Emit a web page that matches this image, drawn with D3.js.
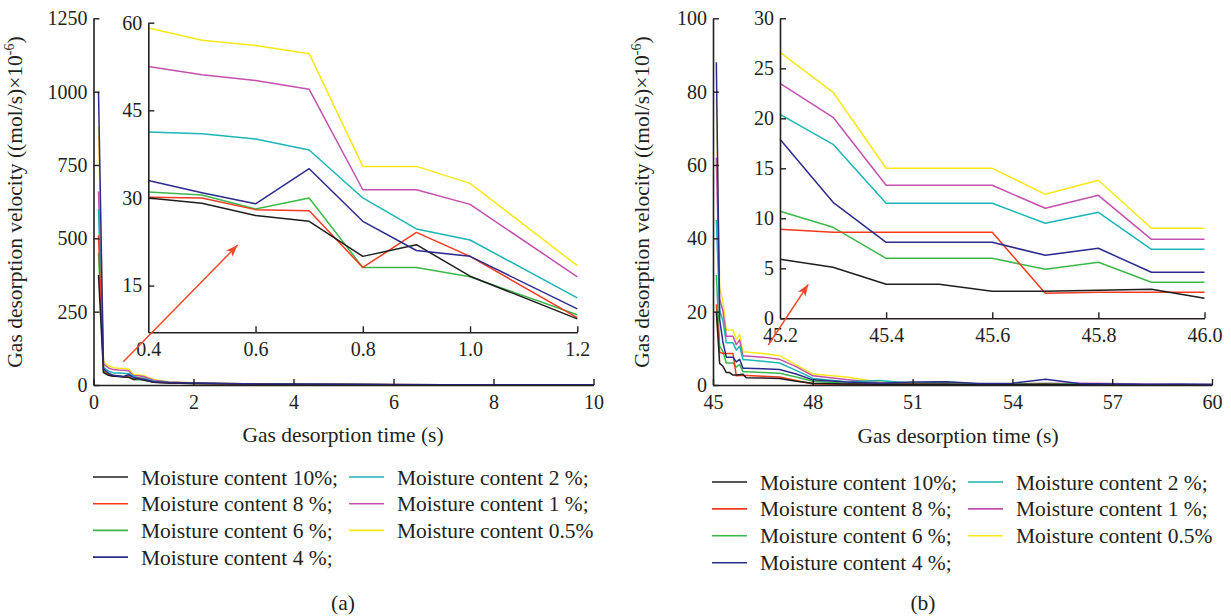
<!DOCTYPE html>
<html><head><meta charset="utf-8">
<script src="https://cdn.jsdelivr.net/npm/d3@7"></script>
<style>
body{margin:0;background:#fff;}
svg text{font-family:"Liberation Serif","Times New Roman",serif;fill:#231f20;}
</style></head>
<body><svg id="c" width="1231" height="616"></svg>
<script>
// ---------- data ----------
const seriesNames = ["Moisture content 10%;","Moisture content 8 %;","Moisture content 6 %;","Moisture content 4 %;","Moisture content 2 %;","Moisture content 1 %;","Moisture content 0.5%"];
const seriesColors = ["#1e1e1e","#f23a1f","#3cb84a","#2c2a8c","#1cb5b5","#c450ad","#f7e816"];

// panel (a)
const timesA = [0.1,0.2,0.3,0.4,0.5,0.6,0.7,0.8,0.9,1.0,1.2,1.5,2,3,4,5,6,7,8,9,10];
const a10 = [375,42,33,30.0,29.1,27.0,26.0,20.0,22.0,16.6,9.3,7,5,3,2,1.5,1,0.8,0.6,0.5,0.4];
const a8  = [510,45,34,30.1,30.0,28.0,27.8,18.1,24.1,20.0,9.5,7,5,3,2,1.5,1,0.8,0.6,0.5,0.4];
const a6  = [450,48,36,31.0,30.5,28.1,30.0,18.1,18.1,16.5,10.0,7.5,5.5,3.2,2.2,1.6,1.1,0.9,0.7,0.5,0.4];
const a4  = [1000,55,40,33.0,30.9,29.0,35.0,26.0,21.0,20.0,11.0,8.5,6.5,4,3,2.2,1.6,1.2,1,0.8,0.6];
const a2  = [600,60,47,41.3,41.0,40.1,38.2,30.0,24.7,22.8,12.9,9,6,3.5,2.4,1.7,1.2,0.9,0.7,0.5,0.4];
const a1  = [660,72,58,52.5,51.1,50.1,48.6,31.4,31.4,28.9,16.5,10,7,4,2.6,1.8,1.3,1,0.8,0.6,0.5];
const a05 = [880,80,65,59.1,57.0,56.1,54.7,35.4,35.4,32.5,18.4,11,7.5,4.3,2.8,2,1.4,1.1,0.9,0.7,0.5];
const mainTicksAX = [0,2,4,6,8,10];
const mainTicksAY = [0,250,500,750,1000,1250];
const insetTicksAX = [0.4,0.6,0.8,1.0,1.2];
const insetTicksAY = [15,30,45,60];

// panel (b)
const timesB = [45.1,45.2,45.3,45.4,45.5,45.6,45.7,45.8,45.9,46.0,46.5,47,47.5,48,49,50,51,52,53,54,55,56,57,58,59,60];
const b10 = [20,5.9,5.1,3.4,3.4,2.7,2.7,2.8,2.9,2.0,1.9,1.8,1.0,0.5,0.3,0.2,0.2,0.2,0.1,0.1,0.2,0.1,0.1,0.1,0.1,0.1];
const b8  = [22,8.9,8.6,8.6,8.6,8.6,2.5,2.6,2.6,2.6,2.4,2.2,1.2,0.3,0.2,0.2,0.2,0.2,0.1,0.1,0.2,0.1,0.1,0.1,0.1,0.1];
const b6  = [30,10.7,9.1,6.0,6.0,6.0,4.9,5.6,3.6,3.6,3.4,3.2,2.2,1.0,0.5,0.3,0.4,0.8,0.3,0.2,0.3,0.2,0.1,0.1,0.1,0.1];
const b4  = [88,17.9,11.6,7.6,7.6,7.6,6.3,7.0,4.6,4.6,4.4,4.2,3.0,1.4,0.8,0.5,0.8,0.9,0.4,0.5,1.6,0.4,0.3,0.2,0.3,0.2];
const b2  = [45,20.4,17.4,11.5,11.5,11.5,9.5,10.6,6.9,6.9,6.5,6.0,4.0,1.8,0.9,1.2,0.5,0.4,0.3,0.3,0.4,0.3,0.2,0.1,0.1,0.1];
const b1  = [62,23.5,20.1,13.3,13.3,13.3,11.0,12.3,7.9,7.9,7.6,7.0,5.0,2.5,1.5,0.6,0.4,0.4,0.3,0.3,0.4,0.5,0.4,0.2,0.1,0.1];
const b05 = [78,26.6,22.6,15.0,15.0,15.0,12.4,13.8,9.0,9.0,8.6,8.0,5.5,3.0,2.2,0.8,0.5,0.5,0.3,0.3,0.4,0.3,0.2,0.1,0.1,0.1];
const mainTicksBX = [45,48,51,54,57,60];
const mainTicksBY = [0,20,40,60,80,100];
const insetTicksBX = [45.2,45.4,45.6,45.8,46.0];
const insetTicksBY = [0,5,10,15,20,25,30];

const seriesA = [a10,a8,a6,a4,a2,a1,a05];
const seriesB = [b10,b8,b6,b4,b2,b1,b05];
const drawOrder = [6,5,4,2,1,0,3];

// ---------- drawing ----------
const svg = d3.select("#c");
const AX = "#231f20";
const FS = 20;
const LFS = 21.5;

function axes(g, x, y, xt, yt, xfmt, yfmt, opt){
  const gx = g.append("g").attr("transform",`translate(0,${y.range()[0]})`)
    .call(d3.axisBottom(x).tickValues(xt).tickSize(-opt.tick).tickPadding(opt.tick+opt.xpad).tickFormat(xfmt).tickSizeOuter(0));
  const gy = g.append("g").attr("transform",`translate(${x.range()[0]},0)`)
    .call(d3.axisLeft(y).tickValues(yt).tickSize(-opt.tick).tickPadding(opt.ypad).tickFormat(yfmt).tickSizeOuter(0));
  [gx,gy].forEach(a=>{
    a.select(".domain").attr("stroke",AX).attr("stroke-width",1.6);
    a.selectAll(".tick line").attr("stroke",AX).attr("stroke-width",1.4);
    a.selectAll(".tick text").attr("font-size",FS).attr("fill",AX)
      .style("font-family",'"Liberation Serif","Times New Roman",serif');
  });
  if(opt.skipFirstX) gx.selectAll(".tick").filter(d=>d===xt[0]).select("line").remove();
}

function lines(g, x, y, times, series, xmin, xmax){
  const line = d3.line().x(d=>x(d[0])).y(d=>y(d[1]));
  drawOrder.forEach(i=>{
    const pts = times.map((t,k)=>[t,series[i][k]]).filter(p=>p[0]>=xmin-1e-9 && p[0]<=xmax+1e-9);
    g.append("path").datum(pts).attr("d",line).attr("fill","none")
      .attr("stroke",seriesColors[i]).attr("stroke-width",1.5).attr("stroke-linejoin","round");
  });
}

function arrow(g, x1,y1,x2,y2){
  g.append("line").attr("x1",x1).attr("y1",y1).attr("x2",x2).attr("y2",y2)
    .attr("stroke","#f04a2c").attr("stroke-width",1.5);
  const ang = Math.atan2(y2-y1,x2-x1), L=12, W=4.5;
  const bx = x2-L*Math.cos(ang), by=y2-L*Math.sin(ang);
  const px = -Math.sin(ang), py = Math.cos(ang);
  g.append("path").attr("d",`M${x2},${y2}L${bx+px*W},${by+py*W}L${bx+Math.cos(ang)*3},${by+Math.sin(ang)*3}L${bx-px*W},${by-py*W}Z`)
    .attr("fill","#f04a2c");
}

function yLabel(cx, cy){
  const t = svg.append("text").attr("transform",`translate(${cx},${cy}) rotate(-90)`)
    .attr("text-anchor","middle").attr("font-size",LFS);
  t.append("tspan").text("Gas desorption velocity ((mol/s)×10");
  t.append("tspan").attr("font-size",14).attr("dy",-8).text("-6");
  t.append("tspan").attr("dy",8).text(")");
}

function legend(x0, y0, dx, dy){
  const col = [0,0,0,0,1,1,1], row=[0,1,2,3,0,1,2];
  seriesNames.forEach((n,i)=>{
    const x = x0 + col[i]*dx, y = y0 + row[i]*dy;
    svg.append("line").attr("x1",x).attr("x2",x+35).attr("y1",y).attr("y2",y)
      .attr("stroke",seriesColors[i]).attr("stroke-width",1.6);
    svg.append("text").attr("x",x+48).attr("y",y).attr("dy","0.35em").attr("font-size",LFS).text(n);
  });
}

// ---- panel (a) ----
const gA = svg.append("g");
const xA = d3.scaleLinear().domain([0,10]).range([93.5,593.5]);
const yA = d3.scaleLinear().domain([0,1250]).range([385,18.3]);
lines(gA, xA, yA, timesA, seriesA, 0, 10);
axes(gA, xA, yA, mainTicksAX, mainTicksAY, d3.format("d"), d3.format("d"), {tick:6,xpad:4,ypad:6});

const giA = svg.append("g");
const xiA = d3.scaleLinear().domain([0.4,1.2]).range([148.3,577.3]);
const yiA = d3.scaleLinear().domain([7,60]).range([332.3,22.7]);
lines(giA, xiA, yiA, timesA, seriesA, 0.4, 1.2);
axes(giA, xiA, yiA, insetTicksAX, insetTicksAY, d3.format(".1f"), d3.format("d"), {tick:6,xpad:4,ypad:6,skipFirstX:true});
arrow(svg, 123.3, 361.7, 237.7, 245);

yLabel(22, 202);
svg.append("text").attr("x",343).attr("y",434).attr("dy","0.35em").attr("text-anchor","middle").attr("font-size",LFS).text("Gas desorption time (s)");
legend(93, 477, 256, 26.7);
svg.append("text").attr("x",343).attr("y",602.5).attr("dy","0.35em").attr("text-anchor","middle").attr("font-size",LFS).text("(a)");

// ---- panel (b) ----
const gB = svg.append("g");
const xB = d3.scaleLinear().domain([45,60]).range([713,1212]);
const yB = d3.scaleLinear().domain([0,100]).range([385,18.3]);
lines(gB, xB, yB, timesB, seriesB, 45, 60);
axes(gB, xB, yB, mainTicksBX, mainTicksBY, d3.format("d"), d3.format("d"), {tick:6,xpad:4,ypad:6});

const giB = svg.append("g");
const xiB = d3.scaleLinear().domain([45.2,46.0]).range([780,1204.5]);
const yiB = d3.scaleLinear().domain([0,30]).range([318.3,18.3]);
lines(giB, xiB, yiB, timesB, seriesB, 45.2, 46.0);
axes(giB, xiB, yiB, insetTicksBX, insetTicksBY, d3.format(".1f"), d3.format("d"), {tick:6,xpad:4,ypad:6,skipFirstX:true});
arrow(svg, 768.3, 345, 808.3, 284.3);

yLabel(649, 202);
svg.append("text").attr("x",958).attr("y",435).attr("dy","0.35em").attr("text-anchor","middle").attr("font-size",LFS).text("Gas desorption time (s)");
legend(712, 482, 256, 26.9);
svg.append("text").attr("x",923).attr("y",602).attr("dy","0.35em").attr("text-anchor","middle").attr("font-size",LFS).text("(b)");
</script></body></html>
